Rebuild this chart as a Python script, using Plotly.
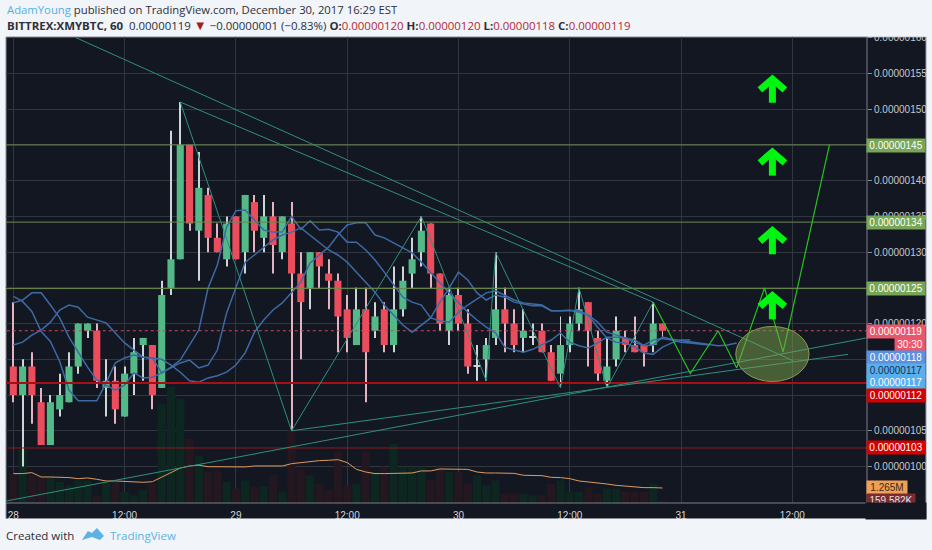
import pandas as pd
import plotly.graph_objects as go

# ---- data (prices in units of 0.00000001 BTC, volume in millions) ----
opens = [114,110,114,109,103,108,109,114,119,119,111,112,107,113,117,117,111,125,129,145,133,138,132,129,135,130,137,132,135,130,134,127,125,130,127,126,122,117,122,119,122,117,122,127,130,134,127,119,124,120,114,115,118,122,120,118,118,119,116,113,117,120,123,118,112,115,118,117,117,117,120]
highs = [123,115,116,111,110,113,116,120,120,120,115,114,114,118,118,117,126,147,151,145,144,139,134,135,135,138,138,138,137,135,137,130,130,130,129,127,124,125,125,123,123,128,128,132,135,134,127,125,125,122,117,118,130,125,122,122,120,120,117,121,121,125,123,119,118,121,119,121,117,123,120]
lows = [109,100,106,103,103,107,109,113,118,111,107,106,107,110,112,108,111,124,129,133,126,130,130,128,129,127,130,130,127,129,105,115,122,125,122,116,116,117,109,118,116,116,121,125,128,125,119,117,119,113,112,112,117,116,116,116,117,116,112,111,116,119,114,112,111,114,116,116,114,116,118]
closes = [110,114,110,103,109,110,114,120,120,112,112,108,113,116,118,110,124,129,145,134,139,132,130,134,129,138,133,135,131,135,127,123,130,128,126,121,118,122,116,121,117,122,126,129,133,127,120,124,120,114,114,117,122,120,117,119,118,116,112,117,120,122,119,113,114,119,117,116,116,120,119]
volume = [2.43,4.5,2.3,2.15,2.15,1.74,1.46,1.87,1.87,0.63,1.74,1.74,0.91,0.63,1.05,1.6,8.2,9.6,8.6,5.3,3.9,2.6,2.7,1.74,1.19,1.87,1.32,1.4,2.3,0.91,6.0,2.84,2.3,1.6,1.05,4.2,1.46,1.6,4.2,2.56,3.0,4.9,3.0,3.0,3.0,1.87,3.0,2.56,2.56,1.6,2.3,1.46,1.87,0.77,0.77,0.77,0.63,0.63,1.6,1.87,0.91,0.91,1.32,0.77,1.19,1.19,0.91,0.91,0.91,1.6,0.16]
volume_ma = [2.43,2.43,2.51,2.15,2.15,2.15,2.10,2.01,2.07,1.96,1.82,1.82,1.79,1.79,1.71,1.76,2.15,2.56,2.89,3.06,3.12,3.0,2.98,2.98,2.98,2.98,3.06,3.06,3.06,3.06,3.25,3.34,3.39,3.5,3.53,3.58,3.34,2.78,2.56,2.43,2.43,2.45,2.48,2.48,2.65,2.65,2.81,2.78,2.78,2.78,2.56,2.48,2.48,2.48,2.45,2.29,2.29,2.26,2.12,2.10,2.01,1.82,1.74,1.68,1.57,1.46,1.38,1.3,1.27,1.27,1.24]
band_a = [123.8,123.1,121.7,118.9,117.5,114.7,110.7,109.2,109.2,109.2,111.7,114.5,115.2,115.6,115.3,115.2,113.1,113.9,114.9,117.0,119.1,125.0,128.2,133.5,135.8,135.9,134.5,133.1,132.8,132.8,135.0,133.2,134.4,133.1,133.2,132.8,131.4,131.4,130.3,128.9,127.2,125.4,123.7,123.0,122.6,120.8,120.4,120.2,121.6,122.6,123.4,124.3,124.6,123.9,123.3,122.9,122.7,122.6,121.8,121.8,121.9,121.8,121.2,120.2,118.8,118.4,118.0,117.3,117.0,117.7,117.9,117.7,117.4,117.3,117.1,117.0]
band_b = [122.9,123.3,124.3,124.3,122.6,120.8,118.1,116.0,113.9,112.1,111.4,110.7,111.4,113.1,112.4,112.5,113.1,113.8,114.5,114.9,113.8,114.2,116.3,121.5,125.1,128.6,129.6,130.6,131.7,132.4,132.8,133.4,132.4,131.3,130.3,129.6,128.6,127.2,125.8,124.4,122.6,121.2,119.8,118.8,119.8,120.8,123.0,125.0,127.2,126.1,124.3,123.3,124.0,123.7,123.0,122.7,122.5,122.5,121.8,121.8,121.9,121.6,121.2,119.5,118.0,117.4,117.3,116.7,115.9,115.7,116.7,117.3,117.7,117.7]
band_c = [117.0,117.4,118.4,119.1,120.2,121.9,122.6,122.3,120.9,120.5,120.1,118.7,117.3,116.3,115.3,115.2,115.0,114.2,113.2,112.0,111.8,112.4,112.7,113.2,114.2,115.9,118.8,120.5,121.9,122.9,124.4,125.8,128.5,129.6,130.7,132.4,133.8,134.1,134.1,132.4,132.0,131.3,130.6,129.9,128.6,127.1,125.7,124.3,122.9,121.6,120.5,119.5,118.7,116.7,116.3,116.0,116.4,117.0,117.7,118.7,117.4,116.9,116.6,117.3,118.1,118.1,118.0,117.7,116.9,117.0,118.1,117.8,117.6,117.4,117.3,117.1,116.9,117.0,117.3]

zigzag_hours = [18,30,44,51,52,59,61,64,69]
zigzag_prices = [151,105,135,112,130,111,125,111,123]
forecast_hours = [69,73,76,78,81,83,88]
forecast_prices = [123,113,119,113.8,125,116,145]
trend_lines = [
    ([6.76,84.1],[160,114.8]),
    ([18,69],[151,123]),
    ([-0.7,92],[95.2,118]),
    ([30,90],[105,115.7]),
]
green_levels = [145,134.2,124.9]
red_levels = [(111.7,2,"#a80f14"),(102.6,1,"#8f1a1e")]
last_price = 119
arrow_tips = [154.2,144.0,133.0,123.9]
arrow_hour = 81.85
price_ticks = [100,105,110,115,120,125,130,135,140,145,150,155,160]
hidden_tick_labels = [110,115,125,145]
time_ticks = [0,12,24,36,48,60,72,84]
time_labels = ["28","12:00","29","12:00","30","12:00","31","12:00"]
ellipse_hours = (77.9,85.8)
ellipse_prices = (111.9,119.6)

start = pd.Timestamp("2017-12-28 00:00")
def t(h):
    return start + pd.Timedelta(hours=h)
def times(n):
    return [t(i) for i in range(n)]
n = len(opens)

PAGE = "#f1f4f9"; DARK = "#131722"; GRID = "#32363f"
UP = "#53b987"; DOWN = "#eb4d5c"
TEAL = "#2f8f7f"; BLUE = "#3d6aa5"; FONT = "Liberation Sans"
L, R, T, B = 6.0, 867.5, 37.0, 503.0
px_x = lambda X: (X - L) / (R - L)
px_y = lambda Y: (B - Y) / (B - T)

fig = go.Figure()
vol_colors = ["#0e2620" if c >= o else "#251720" for o, c in zip(opens, closes)]
fig.add_trace(go.Bar(x=times(n), y=volume, marker=dict(color=vol_colors, line_width=0), yaxis="y", width=3200000))
fig.add_trace(go.Scatter(x=times(n), y=volume_ma, mode="lines", line=dict(color="#df9a5c", width=1), yaxis="y"))

# wicks, then bodies
wick_colors = ["#ccd6d6" if c >= o else "#e3b4bf" for o, c in zip(opens, closes)]
fig.add_trace(go.Bar(x=times(n), base=lows, y=[h - l for h, l in zip(highs, lows)], yaxis="y2", width=380000,
                     marker=dict(color=wick_colors, line_width=0)))
body_colors = [UP if c > o else DOWN if c < o else "#ccd6d6" for o, c in zip(opens, closes)]
fig.add_trace(go.Bar(x=times(n), base=[min(o, c) for o, c in zip(opens, closes)],
                     y=[max(abs(c - o), 0.2) for o, c in zip(opens, closes)], yaxis="y2", width=2750000,
                     marker=dict(color=body_colors, line_width=0)))

for band in (band_a, band_b, band_c):
    fig.add_trace(go.Scatter(x=times(len(band)), y=band, mode="lines", yaxis="y2",
                             line=dict(color=BLUE, width=1.5)))

xspan = [t(-2), t(95)]
for lv in green_levels:
    fig.add_trace(go.Scatter(x=xspan, y=[lv, lv], mode="lines", yaxis="y2", line=dict(color="#6d8a50", width=1)))
for lv, w, col in red_levels:
    fig.add_trace(go.Scatter(x=xspan, y=[lv, lv], mode="lines", yaxis="y2", line=dict(color=col, width=w)))
fig.add_trace(go.Scatter(x=xspan, y=[last_price, last_price], mode="lines", yaxis="y2",
                         line=dict(color="#c8475f", width=1, dash="dot")))

for hs, ps in trend_lines:
    fig.add_trace(go.Scatter(x=[t(h) for h in hs], y=ps, mode="lines", yaxis="y2", line=dict(color=TEAL, width=1)))
fig.add_trace(go.Scatter(x=[t(h) for h in zigzag_hours], y=zigzag_prices, mode="lines", yaxis="y2",
                         line=dict(color=TEAL, width=1)))
fig.add_trace(go.Scatter(x=[t(h) for h in forecast_hours], y=forecast_prices, mode="lines", yaxis="y2",
                         line=dict(color="#27c21f", width=1.2)))

for tip in arrow_tips:
    xs = [t(arrow_hour - 1.35), t(arrow_hour), t(arrow_hour + 1.35), None, t(arrow_hour), t(arrow_hour)]
    ys = [tip - 1.5, tip, tip - 1.5, None, tip, tip - 3.3]
    fig.add_trace(go.Scatter(x=xs, y=ys, mode="lines", yaxis="y2", line=dict(color="#00f510", width=7)))

shapes = [
    dict(type="rect", xref="paper", yref="paper", x0=0, x1=px_x(926.5), y0=px_y(518.5), y1=1,
         fillcolor=DARK, line=dict(color="#8a8d94", width=1), layer="below"),
    dict(type="circle", xref="x", yref="y2", x0=t(ellipse_hours[0]), x1=t(ellipse_hours[1]),
         y0=ellipse_prices[0], y1=ellipse_prices[1], fillcolor="rgba(125,165,75,0.5)",
         line=dict(color="#8a9a55", width=1), layer="above"),
    dict(type="line", xref="paper", yref="paper", x0=1, x1=1, y0=0, y1=1, line=dict(color="#7c7f86", width=1), layer="above"),
    dict(type="line", xref="paper", yref="paper", x0=0, x1=1, y0=0, y1=0, line=dict(color="#7c7f86", width=1), layer="above"),
    # covers the clipped top tick label
    dict(type="rect", xref="paper", yref="paper", x0=px_x(868), x1=px_x(928), y0=px_y(36.5), y1=px_y(20),
         fillcolor=PAGE, line_width=0, layer="above"),
    # TradingView logo
    dict(type="path", xref="paper", yref="paper", fillcolor="#5cb3e3", line_width=0,
         path="M %f,%f L %f,%f L %f,%f L %f,%f L %f,%f L %f,%f L %f,%f Z" % (
             px_x(82), px_y(540), px_x(88), px_y(531), px_x(92), px_y(533), px_x(97), px_y(528),
             px_x(104), px_y(536), px_x(100), px_y(540), px_x(92), px_y(537))),
]

flags = [
    ("0.00000145", 145.5, "#76a656", "#ffffff", 868, 926),
    ("0.00000134", 222.5, "#76a656", "#ffffff", 868, 926),
    ("0.00000125", 288.2, "#76a656", "#ffffff", 868, 926),
    ("0.00000119", 331.0, "#e8576b", "#ffffff", 868, 926),
    ("30:30", 344.5, "#e8576b", "#ffffff", 896, 926),
    ("0.00000118", 357.3, "#5b8fe0", "#ffffff", 868, 926),
    ("0.00000117", 370.0, "#59aeee", "#17344f", 868, 926),
    ("0.00000117", 382.8, "#59aeee", "#ffffff", 868, 926),
    ("0.00000112", 395.8, "#d50000", "#ffffff", 868, 926),
    ("0.00000103", 447.8, "#d50000", "#ffffff", 868, 926),
    ("1.265M", 487.8, "#f0a055", "#3a2a1a", 868, 908),
    ("159.582K", 500.3, "#7a2b30", "#e9e0e0", 868, 916),
]
ann = []
for text, Y, bg, fg, x0, x1 in flags:
    ann.append(dict(text=text, xref="paper", yref="paper", x=px_x((x0 + x1) / 2), y=px_y(Y),
                    xanchor="center", yanchor="middle", showarrow=False, bgcolor=bg, width=x1 - x0, height=13,
                    font=dict(family=FONT, size=10, color=fg), borderpad=0, align="center", valign="middle"))
    if x0 == 868:
        shapes.append(dict(type="line", xref="paper", yref="paper", x0=px_x(868), x1=px_x(871),
                           y0=px_y(Y), y1=px_y(Y), line=dict(color="#e8e8e8", width=1), layer="above"))
ann.append(dict(text=" ", xref="paper", yref="paper", x=px_x(897), y=px_y(510.5), xanchor="center", yanchor="middle",
                showarrow=False, bgcolor=DARK, width=58, height=14))

HEAD = "Open Sans"
line1 = ('<span style="color:#55b0e3">AdamYoung</span> published on TradingView.com, December 30, 2017 16:29 EST')
rd = "#b02a37"
line2 = ('<b>BITTREX:XMYBTC, 60</b>  0.00000119 <span style="color:#a51c1c;font-size:13px">▼</span> −0.00000001 (−0.83%) '
         '<b>O:</b><span style="color:' + rd + '">0.00000120</span> <b>H:</b><span style="color:' + rd + '">0.00000120</span> '
         '<b>L:</b><span style="color:' + rd + '">0.00000118</span> <b>C:</b><span style="color:' + rd + '">0.00000119</span>')
for text, X, Y, col, size in [(line1, 4.5, 9.5, "#2c3038", 11.3), (line2, 4.5, 25, "#2c3038", 11.45),
                              ("Created with", 4, 535, "#2c3038", 11.5)]:
    ann.append(dict(text=text, xref="paper", yref="paper", x=px_x(X), y=px_y(Y), xanchor="left", yanchor="middle",
                    showarrow=False, font=dict(family=HEAD, size=size, color=col)))
ann.append(dict(text="TradingView", xref="paper", yref="paper", x=px_x(108), y=px_y(535), xanchor="left", yanchor="middle",
                showarrow=False, font=dict(family=HEAD, size=11.5, color="#5cb3e3")))

fig.update_layout(
    width=932, height=550, autosize=False,
    margin=dict(l=L, r=932 - R, t=T, b=550 - B, pad=0),
    paper_bgcolor=PAGE, plot_bgcolor=DARK, showlegend=False, hovermode=False,
    shapes=shapes, annotations=ann, barmode="overlay",
    xaxis=dict(type="date", range=[t(-0.79), t(92.05)], rangeslider=dict(visible=False),
               tickvals=[t(h) for h in time_ticks], ticktext=time_labels, tickangle=0,
               showgrid=True, gridcolor=GRID, gridwidth=1, zeroline=False, ticks="outside", ticklen=3,
               tickcolor="rgba(0,0,0,0)", showline=False,
               tickfont=dict(family=FONT, size=10, color="#d4d6da")),
    yaxis=dict(range=[0, 38.5], visible=False, showgrid=False, fixedrange=True),
    yaxis2=dict(overlaying="y", side="right", range=[94.9, 160.1], tickvals=price_ticks,
                ticktext=["" if v in hidden_tick_labels else "%.8f" % (v * 1e-8) for v in price_ticks],
                showgrid=True, gridcolor=GRID, gridwidth=1,
                zeroline=False, ticks="outside", ticklen=4, tickcolor="#8a8d94", showline=False,
                tickfont=dict(family=FONT, size=10, color="#c6c8cc")),
)
fig.write_html("out.html", config=dict(displayModeBar=False), post_script="document.body.style.margin='0';")
